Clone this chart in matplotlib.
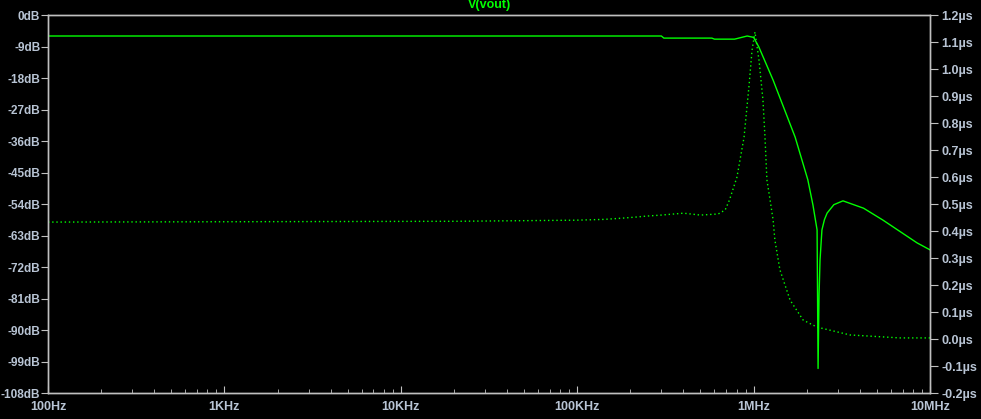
import numpy as np
import matplotlib.pyplot as plt
from matplotlib.ticker import FixedLocator, NullFormatter

# Magnitude V(vout) [dB]
mag_freq = [100, 3.0e5, 3.1e5, 5.8e5, 6.0e5, 7.8e5, 9.2e5, 1.0e6, 1.07e6, 1.29e6,
            1.72e6, 2.03e6, 2.17e6, 2.29e6, 2.32e6, 2.35e6, 2.38e6, 2.44e6, 2.52e6,
            2.61e6, 2.85e6, 3.21e6, 4.2e6, 5.41e6, 8.44e6, 1.0e7]
mag_db = [-6.0, -6.0, -6.6, -6.6, -6.9, -6.9, -6.0, -6.4, -9.1, -18.6,
          -34.9, -47.1, -54.3, -61.4, -101.0, -80.0, -70.0, -61.4, -58.5,
          -56.6, -54.2, -53.1, -55.2, -58.6, -65.1, -67.1]

# Group delay [us]
gd_freq = [100, 2.1e4, 9.8e4, 1.42e5, 1.75e5, 2.1e5, 2.45e5, 3.0e5, 4.0e5, 5.0e5,
           6.3e5, 6.9e5, 7.3e5, 8.05e5, 8.83e5, 9.43e5, 9.8e5, 1.018e6, 1.073e6,
           1.13e6, 1.16e6, 1.19e6, 1.24e6, 1.29e6, 1.32e6, 1.41e6, 1.61e6, 1.91e6,
           2.29e6, 3.52e6, 6.76e6, 1.0e7]
gd_us = [0.433, 0.436, 0.440, 0.443, 0.447, 0.451, 0.455, 0.459, 0.466, 0.459,
         0.463, 0.478, 0.515, 0.600, 0.748, 0.941, 1.070, 1.137, 1.033,
         0.885, 0.748, 0.589, 0.515, 0.441, 0.367, 0.256, 0.144, 0.070,
         0.044, 0.015, 0.004, 0.004]

xticks = [1e2, 1e3, 1e4, 1e5, 1e6, 1e7]
xlabels = ['100Hz', '1KHz', '10KHz', '100KHz', '1MHz', '10MHz']
db_ticks = np.arange(0, -109, -9)
us_ticks = np.round(np.arange(-0.2, 1.21, 0.1), 1)

green = '#00ff00'
axis_col = '#c0c0c0'
text_col = '#b8c4d4'
plt.rcParams['font.family'] = ['Liberation Sans', 'DejaVu Sans']

fig = plt.figure(figsize=(9.81, 4.19), dpi=100, facecolor='black')
ax = fig.add_axes([48/981, 1-393/419, (930-48)/981, (393-15)/419])
ax.set_facecolor('black')
ax2 = ax.twinx()

ax.semilogx(mag_freq, mag_db, color=green, lw=1.0)
ax2.semilogx(gd_freq, gd_us, color=green, lw=1.0, linestyle=(0, (1, 2)))

ax.set_xlim(1e2, 1e7)
ax.set_ylim(-108, 0)
ax2.set_ylim(-0.2, 1.2)

ax.set_xticks(xticks)
ax.set_xticklabels(xlabels)
minor = [m * 10**d for d in range(2, 7) for m in range(2, 10)]
ax.xaxis.set_minor_locator(FixedLocator(minor))
ax.xaxis.set_minor_formatter(NullFormatter())
ax.set_yticks(db_ticks)
ax.set_yticklabels([f'{int(v)}dB' for v in db_ticks])
ax2.set_yticks(us_ticks)
ax2.set_yticklabels([f'{v:.1f}µs' for v in us_ticks])

for a in (ax, ax2):
    for s in a.spines.values():
        s.set_color(axis_col)
        s.set_linewidth(1.0)
ax.tick_params(axis='x', which='major', direction='in', length=5, color=axis_col,
               labelcolor=text_col, labelsize=9, pad=6, top=False)
ax.tick_params(axis='x', which='minor', direction='in', length=3, color=axis_col)
ax.tick_params(axis='y', direction='out', length=5, color=axis_col,
               labelcolor=text_col, labelsize=8.5, pad=0.5)
ax2.tick_params(axis='y', direction='out', length=6, color=axis_col,
                labelcolor=text_col, labelsize=9, pad=2)
for lab in ax.get_xticklabels() + ax.get_yticklabels() + ax2.get_yticklabels():
    lab.set_fontweight('bold')

fig.text(490/981, 1-5/419, 'V(vout)', color=green, fontsize=9, fontweight='bold',
         ha='center', va='center')

fig.savefig('out.png', dpi=100, facecolor='black')
